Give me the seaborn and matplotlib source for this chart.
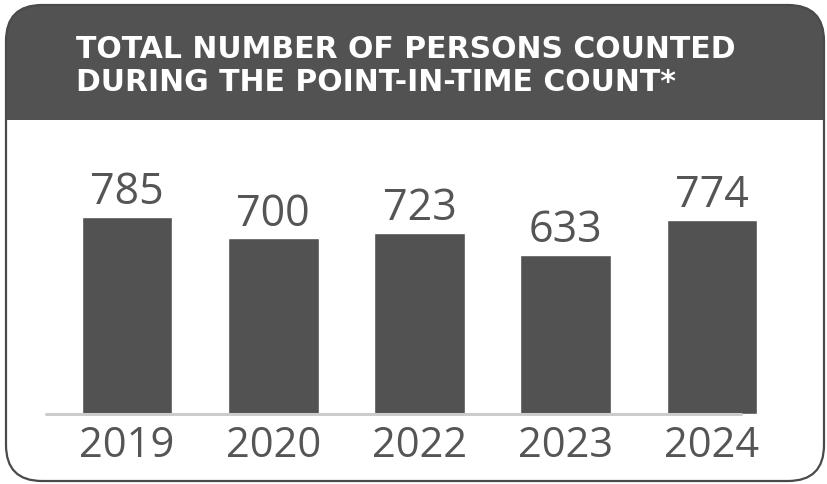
import matplotlib
matplotlib.use("Agg")
import matplotlib.pyplot as plt
import seaborn as sns
from matplotlib.patches import FancyBboxPatch, Rectangle

years = ["2019", "2020", "2022", "2023", "2024"]
counts = [785, 700, 723, 633, 774]
title = "TOTAL NUMBER OF PERSONS COUNTED\nDURING THE POINT-IN-TIME COUNT*"

W, H = 827, 485
DARK = "#525252"
TEXT = "#555555"

sns.set_style("white")
plt.rcParams["font.family"] = ["Open Sans", "DejaVu Sans"]

fig = plt.figure(figsize=(W / 100, H / 100), dpi=100)

# card background in pixel coordinates
bg = fig.add_axes([0, 0, 1, 1])
bg.set_xlim(0, W)
bg.set_ylim(H, 0)
bg.axis("off")

header = FancyBboxPatch((6, 6), 818, 150, boxstyle="round,pad=0,rounding_size=36",
                        facecolor=DARK, edgecolor="none", zorder=1)
bg.add_patch(header)
bg.add_patch(Rectangle((6, 121), 818, 340, facecolor="white", edgecolor="none", zorder=2))
border = FancyBboxPatch((6, 6), 818, 476, boxstyle="round,pad=0,rounding_size=36",
                        facecolor="none", edgecolor="#4a4a4a", linewidth=1.6, zorder=3)
bg.add_patch(border)
bg.text(76, 66, title, color="white", fontsize=21.5, fontweight="bold",
        family="DejaVu Sans", ha="left", va="center", linespacing=1.2, zorder=4)

# bar chart
left, right = 46, 785
base_y, top_y = 415, 160
ax = fig.add_axes([left / W, (H - base_y) / H, (right - left) / W, (base_y - top_y) / H])
sns.barplot(x=years, y=counts, color=DARK, saturation=1, width=0.62, ax=ax)
ax.set_xlim(-0.554, 4.499)
ax.set_ylim(0, (base_y - top_y) / 0.251)
ax.bar_label(ax.containers[0], labels=[str(c) for c in counts], padding=2,
             fontsize=31, color=TEXT)
ax.axhline(0, xmin=0, xmax=(741 - left) / (right - left), color="#cccccc", linewidth=2.2,
           clip_on=False)
for s in ax.spines.values():
    s.set_visible(False)
ax.set_yticks([])
ax.set_xlabel("")
ax.set_ylabel("")
ax.tick_params(axis="x", length=0, pad=7, labelsize=30, labelcolor=TEXT)
ax.patch.set_alpha(0)

fig.savefig("out.png", dpi=100)
